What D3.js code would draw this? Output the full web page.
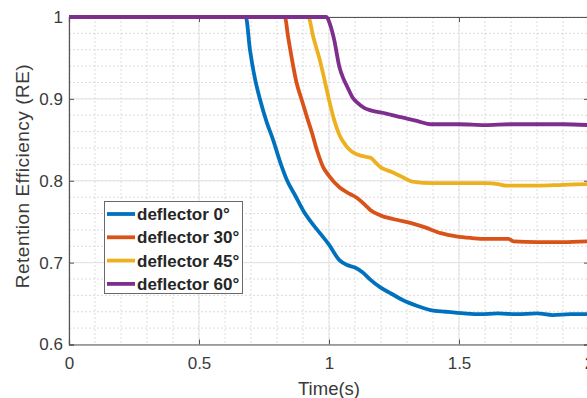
<!DOCTYPE html>
<html>
<head>
<meta charset="utf-8">
<script src="https://cdn.jsdelivr.net/npm/d3@7"></script>
<style>
  html, body { margin: 0; padding: 0; background: #fff; }
  svg { display: block; font-family: "Liberation Sans", Arial, sans-serif; }
</style>
</head>
<body>
<svg id="chart" width="587" height="398"></svg>
<script>
// Retention efficiency over time for four deflector angles
const seriesNames = ["deflector 0°", "deflector 30°", "deflector 45°", "deflector 60°"];
const seriesColors = ["#0072BD", "#D95319", "#EDB120", "#7E2F8E"];

const deflector0 = [
  [0, 1], [0.68, 1], [0.696, 0.96], [0.715, 0.925], [0.735, 0.899], [0.76, 0.872],
  [0.785, 0.85], [0.81, 0.825], [0.838, 0.801], [0.87, 0.782], [0.9, 0.764],
  [0.93, 0.75], [0.965, 0.736], [1.0, 0.722], [1.04, 0.703], [1.07, 0.697],
  [1.1, 0.694], [1.13, 0.688], [1.16, 0.679], [1.196, 0.67], [1.24, 0.662],
  [1.285, 0.654], [1.34, 0.647], [1.39, 0.642], [1.45, 0.64], [1.52, 0.638],
  [1.58, 0.637], [1.65, 0.638], [1.72, 0.637], [1.8, 0.638], [1.86, 0.636],
  [1.93, 0.637], [2.0, 0.637]
];
const deflector30 = [
  [0, 1], [0.83, 1], [0.843, 0.975], [0.856, 0.951], [0.875, 0.92], [0.895, 0.899],
  [0.915, 0.878], [0.935, 0.858], [0.955, 0.836], [0.977, 0.817], [1.0, 0.806],
  [1.04, 0.792], [1.08, 0.784], [1.108, 0.779], [1.14, 0.77], [1.16, 0.764],
  [1.196, 0.758], [1.25, 0.753], [1.32, 0.748], [1.37, 0.743], [1.43, 0.736],
  [1.49, 0.732], [1.55, 0.73], [1.6, 0.729], [1.69, 0.729], [1.71, 0.726],
  [1.8, 0.725], [1.9, 0.725], [2.0, 0.726]
];
const deflector45 = [
  [0, 1], [0.92, 1], [0.94, 0.975], [0.965, 0.947], [0.985, 0.92], [1.0, 0.899],
  [1.02, 0.874], [1.04, 0.856], [1.065, 0.843], [1.09, 0.835], [1.13, 0.83],
  [1.16, 0.828], [1.18, 0.822], [1.196, 0.817], [1.24, 0.811], [1.285, 0.804],
  [1.32, 0.799], [1.4, 0.797], [1.5, 0.797], [1.6, 0.797], [1.65, 0.796],
  [1.68, 0.794], [1.8, 0.794], [1.9, 0.795], [2.0, 0.796]
];
const deflector60 = [
  [0, 1], [0.99, 1], [1.005, 0.99], [1.02, 0.972], [1.04, 0.939], [1.055, 0.925],
  [1.07, 0.915], [1.09, 0.902], [1.11, 0.895], [1.135, 0.889], [1.16, 0.886],
  [1.22, 0.882], [1.27, 0.878], [1.3, 0.876], [1.35, 0.872], [1.39, 0.869],
  [1.5, 0.869], [1.6, 0.868], [1.7, 0.869], [1.8, 0.869], [1.9, 0.869], [2.0, 0.868]
];
const seriesData = [deflector0, deflector30, deflector45, deflector60];

const xTicks = [0, 0.5, 1, 1.5, 2];
const yTicks = [0.6, 0.7, 0.8, 0.9, 1];
const xMinorTicks = d3.range(0, 2.0001, 0.1);
const yMinorTicks = d3.range(0.6, 1.0001, 0.02);

const svg = d3.select("#chart");
const plotLeft = 69, plotRight = 589, plotTop = 17, plotBottom = 344.5;

const x = d3.scaleLinear().domain([0, 2]).range([plotLeft, plotRight]);
const y = d3.scaleLinear().domain([0.6, 1]).range([plotBottom, plotTop]);

const textColor = "#3a3a3a";
const axisColor = "#555";

// minor grid (dotted)
const grid = svg.append("g");
grid.append("g").selectAll("line").data(xMinorTicks).join("line")
  .attr("x1", d => x(d)).attr("x2", d => x(d)).attr("y1", plotTop).attr("y2", plotBottom)
  .attr("stroke", "#dcdcdc").attr("stroke-width", 1).attr("stroke-dasharray", "2,2");
grid.append("g").selectAll("line").data(yMinorTicks).join("line")
  .attr("y1", d => y(d)).attr("y2", d => y(d)).attr("x1", plotLeft).attr("x2", plotRight)
  .attr("stroke", "#dcdcdc").attr("stroke-width", 1).attr("stroke-dasharray", "2,2");
// major grid (solid)
grid.append("g").selectAll("line").data(xTicks).join("line")
  .attr("x1", d => x(d)).attr("x2", d => x(d)).attr("y1", plotTop).attr("y2", plotBottom)
  .attr("stroke", "#e3e3e3").attr("stroke-width", 1);
grid.append("g").selectAll("line").data(yTicks).join("line")
  .attr("y1", d => y(d)).attr("y2", d => y(d)).attr("x1", plotLeft).attr("x2", plotRight)
  .attr("stroke", "#e3e3e3").attr("stroke-width", 1);

// axes with inward ticks
const xAxis = svg.append("g").attr("transform", `translate(0,${plotBottom})`)
  .call(d3.axisBottom(x).tickValues(xTicks).tickSize(-5).tickPadding(12)
    .tickFormat(d3.format("~g")));
const yAxis = svg.append("g").attr("transform", `translate(${plotLeft},0)`)
  .call(d3.axisLeft(y).tickValues(yTicks).tickSize(-5).tickPadding(6)
    .tickFormat(d3.format("~g")));
const xTop = svg.append("g").attr("transform", `translate(0,${plotTop})`)
  .call(d3.axisTop(x).tickValues(xTicks).tickSize(-5).tickFormat(""));
const yRight = svg.append("g").attr("transform", `translate(${plotRight},0)`)
  .call(d3.axisRight(y).tickValues(yTicks).tickSize(-5).tickFormat(""));

[xAxis, yAxis, xTop, yRight].forEach(g => {
  g.select(".domain").attr("stroke", axisColor).attr("stroke-width", 1.2);
  g.selectAll(".tick line").attr("stroke", axisColor).attr("stroke-width", 1);
  g.selectAll(".tick text").attr("fill", textColor).style("font-size", "17px")
    .style("font-family", "'Liberation Sans', Arial, sans-serif");
});

// series lines
const line = d3.line().x(d => x(d[0])).y(d => y(d[1])).curve(d3.curveMonotoneX);
svg.append("g").selectAll("path").data(seriesData).join("path")
  .attr("d", line).attr("fill", "none")
  .attr("stroke", (d, i) => seriesColors[i]).attr("stroke-width", 3.8)
  .attr("stroke-linejoin", "round").attr("stroke-linecap", "butt");

// axis labels
svg.append("text").attr("x", x(1)).attr("y", 394.5).attr("text-anchor", "middle")
  .attr("fill", textColor).style("font-size", "18.5px").text("Time(s)");
svg.append("text").attr("transform", "translate(28.5,176) rotate(-90)")
  .attr("text-anchor", "middle").attr("fill", textColor).style("font-size", "19px")
  .style("letter-spacing", "0.5px")
  .text("Retention Efficiency (RE)");

// legend
const lg = svg.append("g");
lg.append("rect").attr("x", 104.5).attr("y", 201.5).attr("width", 138).attr("height", 92)
  .attr("fill", "#fff").attr("stroke", "#6a6a6a").attr("stroke-width", 1);
seriesNames.forEach((name, i) => {
  const cy = 214 + i * 23.3;
  lg.append("line").attr("x1", 107).attr("x2", 135).attr("y1", cy).attr("y2", cy)
    .attr("stroke", seriesColors[i]).attr("stroke-width", 3.8);
  lg.append("text").attr("x", 137).attr("y", cy + 6).attr("fill", "#262626")
    .style("font-size", "17px").style("font-weight", "bold").text(name);
});
</script>
</body>
</html>
